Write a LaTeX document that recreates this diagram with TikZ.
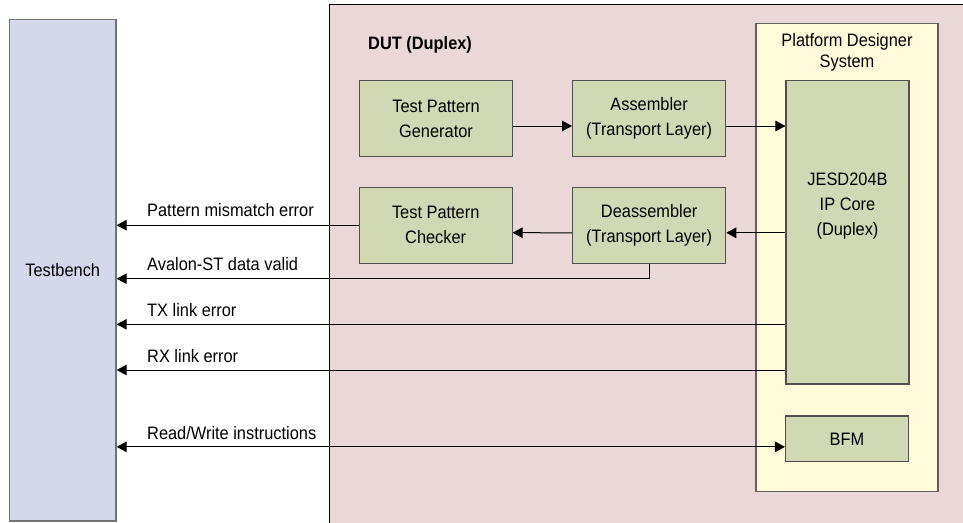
\documentclass[tikz,border=0pt]{standalone}
\usepackage{fontspec}
\setmainfont{Liberation Sans}[FakeStretch=0.91]
\usetikzlibrary{arrows.meta}
\definecolor{tbfill}{RGB}{213,216,234}
\definecolor{dutfill}{RGB}{234,215,215}
\definecolor{pdsfill}{RGB}{255,250,217}
\definecolor{blkfill}{RGB}{208,216,180}
\definecolor{edge}{RGB}{80,80,80}
\begin{document}
\begin{tikzpicture}[x=1pt,y=-1pt,
  font=\fontsize{18}{25}\selectfont,
  box/.style={draw=edge, fill=blkfill, line width=1.1pt, inner sep=0pt, align=center},
  arr/.style={-{Triangle[length=10pt,width=10.5pt]}, line width=1pt},
  darr/.style={{Triangle[length=10pt,width=10.5pt]}-{Triangle[length=10pt,width=10.5pt]}, line width=1pt},
  lab/.style={anchor=base west, inner sep=0pt}]
\useasboundingbox (0,0) rectangle (963,522);
\clip (0,0) rectangle (963,522);
% containers
\node[draw=edge!80, fill=tbfill, line width=1.3pt, minimum width=106.5pt, minimum height=501.5pt, inner sep=0pt] (tb) at (62.75,270.25) {Testbench};
\node[draw=black, fill=dutfill, line width=1pt, minimum width=651pt, minimum height=525.5pt, inner sep=0pt] (dut) at (654.5,267.25) {};
\node[anchor=base west, inner sep=0pt, font=\fontsize{18}{25}\selectfont\bfseries] (duttitle) at (368,49) {DUT (Duplex)};
\node[draw=edge!90, fill=pdsfill, line width=1.1pt, minimum width=182pt, minimum height=468.3pt, inner sep=0pt] (pds) at (847,257.55) {};
\node[align=center, inner sep=0pt, font=\fontsize{18}{21}\selectfont] (pdstitle) at (847,52.5) {Platform Designer\\System};
% blocks
\node[box, minimum width=123pt, minimum height=303.7pt] (jesd) at (847.5,232.15) {};
\node[align=center, inner sep=0pt] (jesdtext) at ([yshift=26pt]jesd.center) {JESD204B\\IP Core\\(Duplex)};
\node[box, minimum width=123pt, minimum height=45.7pt] (bfm) at (847,438.85) {BFM};
\node[box, minimum width=153pt, minimum height=76.4pt] (tpg) at (436,118.5) {Test Pattern\\Generator};
\node[box, minimum width=153pt, minimum height=76.4pt] (asm) at (649.1,118.5) {Assembler\\(Transport Layer)};
\node[box, minimum width=152.7pt, minimum height=75.7pt] (tpc) at (435.7,225.2) {Test Pattern\\Checker};
\node[box, minimum width=153pt, minimum height=76pt] (dasm) at (649.2,225.3) {Deassembler\\(Transport Layer)};
% connectors
\draw[arr] ([yshift=-7.5pt]tpg.east) -- ([yshift=-7.5pt]asm.west);
\coordinate (a1) at ([yshift=-7.5pt]asm.east);
\draw[arr] (a1) -- (a1 -| jesd.west);
\coordinate (d1) at ([yshift=-7.5pt]dasm.east);
\draw[arr] (d1 -| jesd.west) -- (d1);
\draw[arr] ([yshift=-7.5pt]dasm.west) -- ([yshift=-7.5pt]tpc.east);
\draw[arr] (tpc.west) -- (tpc.west -| tb.east);
\coordinate (av) at (0,278.7);
\draw[arr] (dasm.south) |- (av -| tb.east);
\coordinate (tx) at (0,324.3);
\draw[arr] (tx -| jesd.west) -- (tx -| tb.east);
\coordinate (rx) at (0,370);
\draw[arr] (rx -| jesd.west) -- (rx -| tb.east);
\coordinate (rw) at ([yshift=-8pt]bfm.west);
\draw[darr] (rw -| tb.east) -- (rw);
% labels
\node[lab] (l1) at (147,216) {Pattern mismatch error};
\node[lab] (l2) at (147,270.7) {Avalon-ST data valid};
\node[lab] (l3) at (147,316.8) {TX link error};
\node[lab] (l4) at (147,362.5) {RX link error};
\node[lab] (l5) at (147,439.5) {Read/Write instructions};
\end{tikzpicture}
\end{document}
